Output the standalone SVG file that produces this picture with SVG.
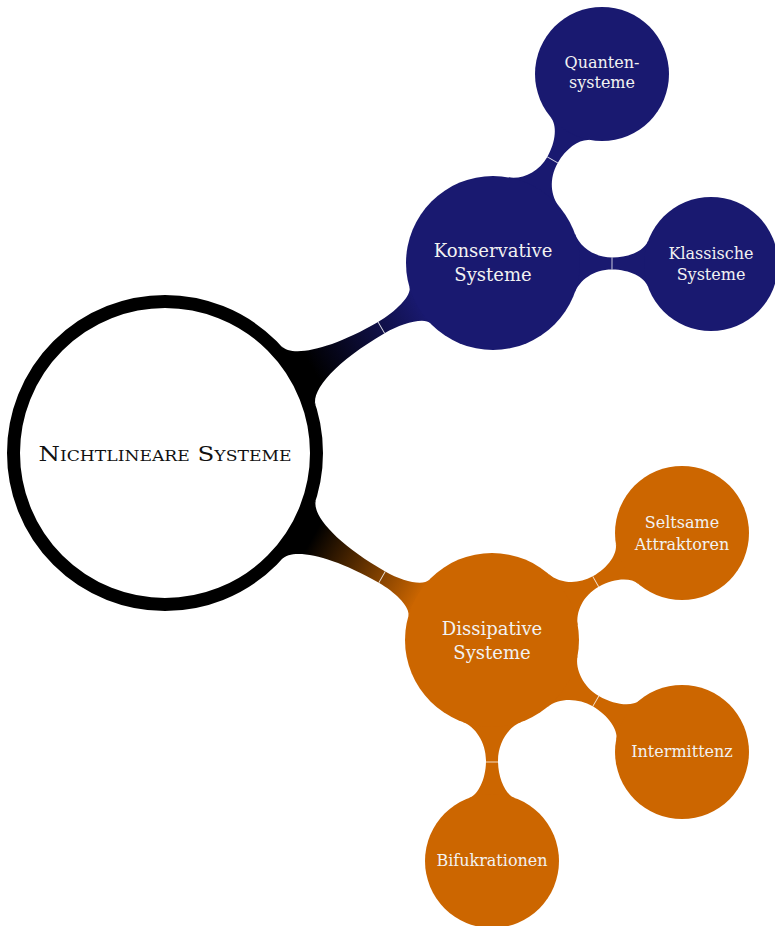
<svg xmlns="http://www.w3.org/2000/svg" width="775" height="926" viewBox="0 0 775 926">
<defs>
<linearGradient id="gBlue" gradientUnits="userSpaceOnUse" x1="170" y1="0" x2="295" y2="0">
<stop offset="0" stop-color="#000"/><stop offset="1" stop-color="#191970"/>
</linearGradient>
<linearGradient id="gOrange" gradientUnits="userSpaceOnUse" x1="170" y1="0" x2="292" y2="0">
<stop offset="0" stop-color="#000"/><stop offset="1" stop-color="#cc6600"/>
</linearGradient>
<style>
.blue{fill:#191970}
.orange{fill:#cc6600}
.seam{stroke:#fff;stroke-width:0.9;fill:none;opacity:0.85}
.t{font-family:"DejaVu Serif","Liberation Serif",serif;fill:#f2f2f2;text-anchor:middle}
.s16{font-size:16px}
.s18{font-size:18px}
.root{font-family:"DejaVu Serif","Liberation Serif",serif;font-size:20px;font-variant:small-caps;fill:#111;text-anchor:middle}
</style>
</defs>

<g id="connectors">
<g transform="translate(165,453) rotate(-30.08)">
<path fill="url(#gBlue)" d="M154.3,34.2 C157.8,18.6 195,6.5 250,6.5 C270,6.5 292.5,12.3 294.7,21 L294.7,-21 C292.5,-12.3 270,-6.5 250,-6.5 C195,-6.5 157.8,-18.6 154.3,-34.2 Z"/>
<path class="seam" d="M250,-6.5 V6.5"/>
</g>
<g transform="translate(165,453) rotate(29.76)">
<path fill="url(#gOrange)" d="M154.3,34.2 C157.8,18.6 195,6.5 250,6.5 C270,6.5 290.1,12.3 292.3,21 L292.3,-21 C290.1,-12.3 270,-6.5 250,-6.5 C195,-6.5 157.8,-18.6 154.3,-34.2 Z"/>
<path class="seam" d="M250,-6.5 V6.5"/>
</g>
<g transform="translate(493,263) rotate(-60)">
<path class="blue" d="M81.75,29.75 C86.5,16.6 101,6 119,6 C137,6 151.6,13.5 155,22.9 L155,-22.9 C151.6,-13.5 137,-6 119,-6 C101,-6 86.5,-16.6 81.75,-29.75 Z"/>
<path class="seam" d="M119,-6 V6"/>
</g>
<g transform="translate(493,263) rotate(0.26)">
<path class="blue" d="M81.75,29.75 C86.5,16.6 101,6 119,6 C137,6 151.6,13.5 155,22.9 L155,-22.9 C151.6,-13.5 137,-6 119,-6 C101,-6 86.5,-16.6 81.75,-29.75 Z"/>
<path class="seam" d="M119,-6 V6"/>
</g>
<g transform="translate(492,640) rotate(-29.39)">
<path class="orange" d="M81.75,29.75 C86.5,16.6 101,6 119,6 C137,6 151.6,13.5 155,22.9 L155,-22.9 C151.6,-13.5 137,-6 119,-6 C101,-6 86.5,-16.6 81.75,-29.75 Z"/>
<path class="seam" d="M119,-6 V6"/>
</g>
<g transform="translate(492,640) rotate(30.52)">
<path class="orange" d="M81.75,29.75 C86.5,16.6 102.5,6 120.5,6 C138.5,6 154.6,13.5 158,22.9 L158,-22.9 C154.6,-13.5 138.5,-6 120.5,-6 C102.5,-6 86.5,-16.6 81.75,-29.75 Z"/>
<path class="seam" d="M120.5,-6 V6"/>
</g>
<g transform="translate(492,640) rotate(90)">
<path class="orange" d="M81.75,29.75 C86.5,16.6 102.5,6 120.5,6 C138.5,6 154.6,13.5 158,22.9 L158,-22.9 C154.6,-13.5 138.5,-6 120.5,-6 C102.5,-6 86.5,-16.6 81.75,-29.75 Z"/>
<path class="seam" d="M122,-6 V6"/>
</g>
</g>

<g id="root">
<circle cx="165" cy="453" r="151.5" fill="#fff" stroke="#000" stroke-width="13"/>
<text class="root" x="165" y="461" textLength="253" lengthAdjust="spacingAndGlyphs">Nichtlineare Systeme</text>
</g>

<g id="konservative">
<circle class="blue" cx="493" cy="263" r="87"/>
<text class="t s18" x="493" y="257">Konservative</text>
<text class="t s18" x="493" y="281">Systeme</text>
</g>

<g id="quanten">
<circle class="blue" cx="602" cy="74" r="67"/>
<text class="t s16" x="602" y="68">Quanten-</text>
<text class="t s16" x="602" y="88">systeme</text>
</g>

<g id="klassische">
<circle class="blue" cx="711" cy="264" r="67"/>
<text class="t s16" x="711" y="259">Klassische</text>
<text class="t s16" x="711" y="280">Systeme</text>
</g>

<g id="dissipative">
<circle class="orange" cx="492" cy="640" r="87"/>
<text class="t s18" x="492" y="635">Dissipative</text>
<text class="t s18" x="492" y="659">Systeme</text>
</g>

<g id="seltsame">
<circle class="orange" cx="682" cy="533" r="67"/>
<text class="t s16" x="682" y="528">Seltsame</text>
<text class="t s16" x="682" y="550">Attraktoren</text>
</g>

<g id="intermittenz">
<circle class="orange" cx="682" cy="752" r="67"/>
<text class="t s16" x="682" y="757">Intermittenz</text>
</g>

<g id="bifukrationen">
<circle class="orange" cx="492" cy="861" r="67"/>
<text class="t s16" x="492" y="866">Bifukrationen</text>
</g>
</svg>
